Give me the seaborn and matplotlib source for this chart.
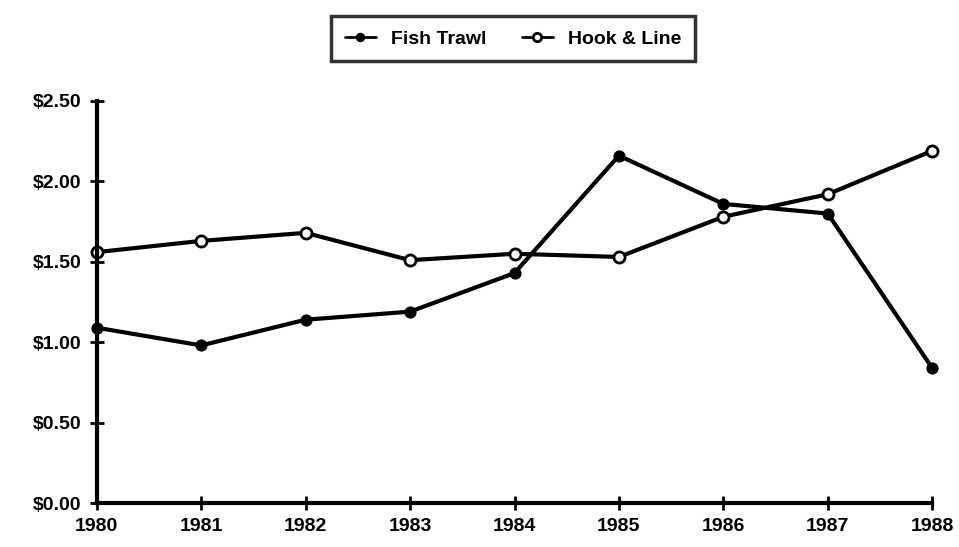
import numpy as np
import pandas as pd
import seaborn as sns
import matplotlib.pyplot as plt

# values ($ per pound)
years = [1980, 1981, 1982, 1983, 1984, 1985, 1986, 1987, 1988]
fish_trawl = [1.09, 0.98, 1.14, 1.19, 1.43, 2.16, 1.86, 1.80, 0.84]
hook_line = [1.56, 1.63, 1.68, 1.51, 1.55, 1.53, 1.78, 1.92, 2.19]
y_ticks = [0.0, 0.5, 1.0, 1.5, 2.0, 2.5]
y_labels = ["$0.00", "$0.50", "$1.00", "$1.50", "$2.00", "$2.50"]

df = pd.DataFrame({"Year": years, "Fish Trawl": fish_trawl, "Hook & Line": hook_line})

sns.set_style("white")
plt.rcParams['font.family'] = ['Liberation Sans', 'DejaVu Sans']
plt.rcParams['font.weight'] = 'bold'
plt.rcParams['text.color'] = 'black'
plt.rcParams['xtick.color'] = 'black'
plt.rcParams['ytick.color'] = 'black'

fig = plt.figure(figsize=(9.59, 5.47), dpi=100)
ax = fig.add_axes([0.101, 0.0804, 0.871, 0.735])

# Fish Trawl: filled markers
sns.lineplot(data=df, x="Year", y="Fish Trawl", ax=ax, color="black", linewidth=3,
             marker="o", markersize=8, markerfacecolor="black", markeredgecolor="black",
             label="Fish Trawl")
# Hook & Line: open markers
sns.lineplot(data=df, x="Year", y="Hook & Line", ax=ax, color="black", linewidth=3,
             marker="o", markersize=8, markerfacecolor="white", markeredgecolor="black",
             markeredgewidth=2, label="Hook & Line")

ax.set_xlim(1980, 1988)
ax.set_ylim(0, 2.5)
ax.set_xticks(years)
ax.set_xticklabels([str(y) for y in years], fontsize=14, fontweight='bold')
ax.set_yticks(y_ticks)
ax.set_yticklabels(y_labels, fontsize=14, fontweight='bold')
ax.set_xlabel("")
ax.set_ylabel("")

for side in ["top", "right"]:
    ax.spines[side].set_visible(False)
for side in ["left", "bottom"]:
    ax.spines[side].set_linewidth(3)
    ax.spines[side].set_color("black")
ax.tick_params(axis="both", bottom=True, left=True, direction="inout", length=10,
               width=2, color="black", labelcolor="black", pad=6)
for ln in ax.lines:
    ln.set_clip_on(False)

leg = fig.legend(*ax.get_legend_handles_labels(), loc="center", bbox_to_anchor=(0.535, 0.929),
                 ncol=2, frameon=True, fancybox=False, handlelength=1.6, columnspacing=1.8,
                 prop={'weight': 'bold', 'size': 14}, borderpad=0.7)
ax.get_legend().remove()
leg.get_frame().set_edgecolor("black")
leg.get_frame().set_linewidth(2.5)
for h in leg.legend_handles:
    h.set_linewidth(2)
    h.set_markersize(6)

fig.savefig("out.png", dpi=100)
